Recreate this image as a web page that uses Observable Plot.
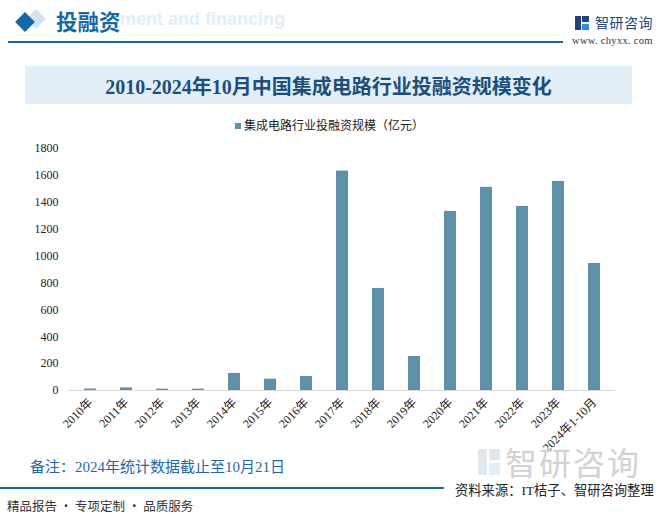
<!DOCTYPE html>
<html><head><meta charset="utf-8">
<script src="https://cdn.jsdelivr.net/npm/d3@7"></script>
<script src="https://cdn.jsdelivr.net/npm/@observablehq/plot@0.6"></script>
<style>
html,body{margin:0;padding:0;background:#fff;}
#page{position:relative;width:659px;height:514px;overflow:hidden;background:#fff;font-family:"Noto Sans CJK SC",sans-serif;}
.abs{position:absolute;white-space:nowrap;}
</style></head>
<body><div id="page">
  <div class="abs" style="left:29px;top:12px;width:14px;height:14px;background:#d3e3ef;transform:rotate(45deg);"></div>
  <div class="abs" style="left:18px;top:15px;width:14px;height:14px;background:#1769a6;transform:rotate(45deg);"></div>
  <div class="abs" style="left:120px;top:9px;font-family:Arial,'Liberation Sans',sans-serif;font-weight:bold;font-size:18px;color:#e2eef8;">ment and financing</div>
  <div class="abs" style="left:56px;top:5px;font-weight:bold;font-size:21.5px;color:#1769a6;">投融资</div>
  <div class="abs" style="left:8px;top:41px;width:555px;height:1.5px;background:#1769a6;"></div>
  <div class="abs" style="left:575px;top:16px;width:14px;height:14px;">
    <div class="abs" style="left:0;top:0;width:6px;height:14px;background:#23427e;"></div>
    <div class="abs" style="left:7px;top:0;width:7px;height:6px;background:#23427e;"></div>
    <div class="abs" style="left:7px;top:8px;width:7px;height:6px;background:#2f8fd6;"></div>
  </div>
  <div class="abs" style="left:595px;top:12px;font-size:14px;color:#22447f;letter-spacing:0.5px;">智研咨询</div>
  <div class="abs" style="left:572px;top:35px;font-size:10.5px;color:#333;font-family:'Liberation Serif',serif;letter-spacing:0.3px;">www. chyxx. com</div>

  <div class="abs" style="left:25px;top:66px;width:607px;height:38px;background:#e2eef8;"></div>
  <div id="title" class="abs" style="left:25px;top:71px;width:607px;text-align:center;font-weight:bold;font-size:20px;color:#1d4f7c;font-family:'Liberation Serif','Noto Sans CJK SC',serif;"></div>

  <div id="legend" class="abs" style="left:0;top:116px;width:659px;text-align:center;font-size:12px;color:#222;"></div>

  <div id="chart" class="abs" style="left:0;top:135px;"></div>

  <div class="abs" style="left:478px;top:449px;width:22px;height:26px;">
    <div class="abs" style="left:0;top:0;width:9px;height:26px;background:#dfe7ef;"></div>
    <div class="abs" style="left:11px;top:0;width:11px;height:11px;background:#dfe7ef;"></div>
    <div class="abs" style="left:11px;top:14px;width:11px;height:12px;background:#e3edf6;"></div>
  </div>
  <div class="abs" style="left:505px;top:438px;font-size:32px;color:#d2d2d2;letter-spacing:2px;">智研咨询</div>
  <div id="note" class="abs" style="left:30px;top:455px;font-size:15px;color:#1e69a4;font-family:'Liberation Serif','Noto Sans CJK SC',serif;"></div>
  <div class="abs" style="left:0;top:487px;width:444px;height:1.5px;background:#1769a6;"></div>
  <div id="source" class="abs" style="left:455px;top:480px;font-size:13.3px;color:#222;font-family:'Liberation Serif','Noto Sans CJK SC',serif;"></div>
  <div id="slogan" class="abs" style="left:7px;top:496px;font-size:12.5px;color:#333;"></div>
</div>
<script>
const titleText = "2010-2024年10月中国集成电路行业投融资规模变化";
const seriesName = "集成电路行业投融资规模（亿元）";
const noteText = "备注：2024年统计数据截止至10月21日";
const sourceText = "资料来源：IT桔子、智研咨询整理";
const sloganText = "精品报告 · 专项定制 · 品质服务";

const years = ["2010年","2011年","2012年","2013年","2014年","2015年","2016年","2017年","2018年","2019年","2020年","2021年","2022年","2023年","2024年1-10月"];
const values = [11, 19, 10, 10, 127, 84, 104, 1632, 759, 253, 1332, 1511, 1369, 1555, 945];
const yTicks = [0,200,400,600,800,1000,1200,1400,1600,1800];
const barColor = "#5e91a8";

document.getElementById("title").textContent = titleText;
document.getElementById("note").textContent = noteText;
document.getElementById("source").textContent = sourceText;
document.getElementById("slogan").textContent = sloganText;
document.getElementById("legend").innerHTML =
  `<span style="display:inline-block;width:6px;height:6px;background:${barColor};margin-right:3px;vertical-align:1px;"></span>${seriesName}`;

const data = years.map((y, i) => ({year: y, value: values[i]}));

const chart = Plot.plot({
  width: 659,
  height: 320,
  marginTop: 13,
  marginBottom: 65,
  marginLeft: 68,
  marginRight: 44,
  style: {fontFamily: "'Liberation Serif','Times New Roman','Noto Sans CJK SC',serif", fontSize: "12px", color: "#222", background: "transparent"},
  x: {domain: years, paddingInner: 0.67, paddingOuter: 0.335, label: null},
  y: {domain: [0, 1800], ticks: yTicks, label: null},
  marks: [
    Plot.barY(data, {x: "year", y: "value", fill: barColor}),
    Plot.ruleY([0], {stroke: "#d9d9d9", strokeWidth: 1.2}),
    Plot.axisY({ticks: yTicks, tickSize: 0, tickPadding: 10, tickFormat: d => String(d), label: null, fontSize: 12}),
    Plot.axisX({tickSize: 0, tickRotate: -45, tickPadding: 10, label: null, fontSize: 12})
  ]
});
document.getElementById("chart").appendChild(chart);
</script>
</body></html>
